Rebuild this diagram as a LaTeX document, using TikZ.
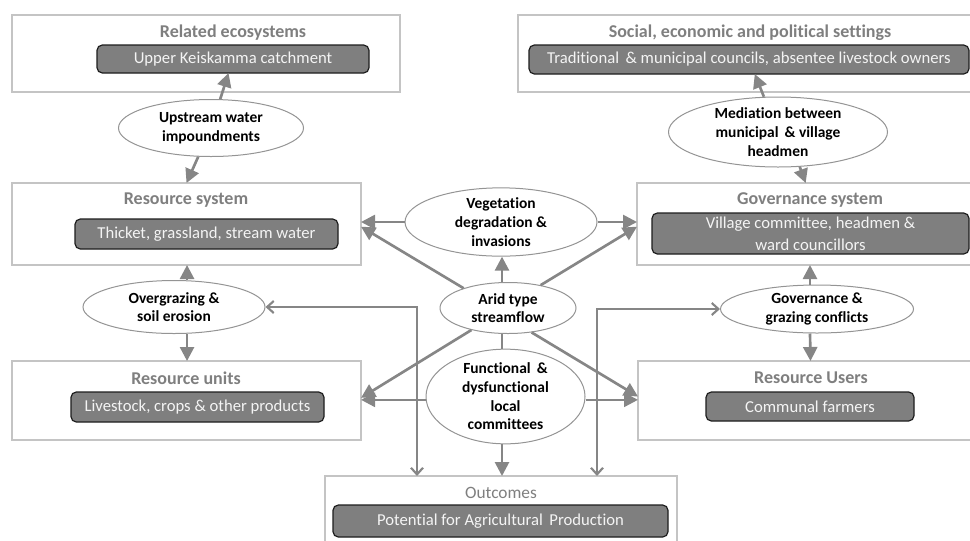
\documentclass[tikz,border=0pt]{standalone}
\usepackage{fontspec}
\setmainfont{Carlito}[Ligatures=NoCommon]
\usetikzlibrary{arrows.meta,shapes.geometric}
\definecolor{framegray}{HTML}{C4C4C4}
\definecolor{titlegray}{HTML}{7F7F7F}
\definecolor{darkfill}{HTML}{7F7F7F}
\definecolor{darkline}{HTML}{1E1E1E}
\definecolor{lightext}{HTML}{F4F4F4}
\definecolor{ovalline}{HTML}{949494}
\definecolor{linkgray}{HTML}{868686}
\begin{document}
\begin{tikzpicture}[x=0.75pt,y=-0.75pt,
  sized/.style 2 args={minimum width=#1*0.75pt, minimum height=#2*0.75pt},
  frame/.style={draw=framegray, line width=1.2pt, fill=white, inner sep=0pt, outer sep=0pt},
  title/.style={text=titlegray, font=\bfseries\fontsize{13.5}{16}\selectfont, inner sep=0pt},
  darkbox/.style={draw=darkline, line width=0.9pt, fill=darkfill, rounded corners=4pt,
    text=lightext, font=\fontsize{12.5}{16.5}\selectfont, align=center, inner sep=0pt, outer sep=0pt},
  oval/.style={ellipse, draw=ovalline, line width=0.75pt, fill=white, inner sep=0pt,
    align=center, font=\bfseries\fontsize{11.6}{14}\selectfont},
  link/.style={draw=linkgray, line width=2pt, -{Triangle[length=10.5pt,width=10.5pt]}},
  twoway/.style={draw=linkgray, line width=1.8pt,
    {Straight Barb[length=5pt,width=9pt,line width=1.6pt]}-{Straight Barb[length=5pt,width=9pt,line width=1.6pt]}},
  plain/.style={draw=linkgray, line width=2pt}]

\useasboundingbox (0,0) rectangle (970,540);
\clip (0,0) rectangle (970,540);

% outer frames
\node[frame, sized={388}{77}] (related) at (206,53.5) {};
\node[frame, sized={467}{77}] (social) at (751.5,53.5) {};
\node[frame, sized={349}{82}] (rsys) at (186.5,224) {};
\node[frame, sized={348}{82}] (govsys) at (811,224) {};
\node[frame, sized={349}{79}] (runits) at (186.5,400.5) {};
\node[frame, sized={347}{79}] (rusers) at (811.5,400.5) {};
\node[frame, sized={352}{79}] (outc) at (501,515.5) {};

% frame headings
\node[title] (relatedT) at (233,33) {Related ecosystems};
\node[title] (socialT) at (750,33) {Social, economic and political settings};
\node[title] (rsysT) at (186,200) {Resource system};
\node[title] (govsysT) at (810,200) {Governance system};
\node[title] (runitsT) at (186,378) {Resource units};
\node[title] (rusersT) at (811,378) {Resource Users};
\node[title, font=\fontsize{13}{15}\selectfont] (outcT) at (501,493) {Outcomes};

% filled content boxes
\node[darkbox, sized={272}{28}] (keis) at (233,59) {Upper Keiskamma catchment};
\node[darkbox, sized={440}{29}] (trad) at (749,59.5) {Traditional \,\& municipal councils, absentee livestock owners};
\node[darkbox, sized={263}{30}] (thicket) at (206.5,234) {Thicket, grassland, stream water};
\node[darkbox, sized={317}{41}] (village) at (810.5,233.5) {Village committee, headmen \&\\ward councillors};
\node[darkbox, sized={253}{30}] (livestock) at (197.5,407) {Livestock, crops \& other products};
\node[darkbox, sized={208}{29}] (farmers) at (810,406.5) {Communal farmers};
\node[darkbox, sized={335}{32}] (potential) at (500.5,521) {Potential for Agricultural \,Production};

% processes
\node[oval, sized={185}{57}] (upstream) at (211,128) {Upstream water\\impoundments};
\node[oval, sized={219}{70}] (mediation) at (778,132) {Mediation between\\municipal \,\& village\\headmen};
\node[oval, sized={192}{65}] (veg) at (501,222) {Vegetation\\degradation \&\\invasions};
\node[oval, sized={136}{51}] (arid) at (508,308) {Arid type\\streamflow};
\node[oval, sized={159}{87}] (func) at (505.5,396.5) {Functional \,\&\\dysfunctional\\local\\committees};
\node[oval, sized={182}{53}] (overg) at (174,307) {Overgrazing \&\\soil erosion};
\node[oval, sized={193}{48}] (gconf) at (817,309) {Governance \&\\grazing conflicts};

\coordinate (elbowL) at (417,307);
\coordinate (elbowR) at (597,309);

% connectors
\draw[link] (upstream) -- (keis);
\draw[link] (upstream.246) -- (rsys.north);
\draw[link] (mediation) -- (trad);
\draw[link] (mediation.-58) -- ([xshift=-4pt]govsys.north);

\draw[link] (veg.west) -- (veg.west -| rsys.east);
\draw[link] (veg.east) -- (veg.east -| govsys.west);

\draw[link] ([xshift=0.75pt]veg.south |- arid.north) -- ([xshift=0.75pt]veg.south);
\draw[link] (arid.156) -- ([yshift=-2pt]rsys.east);
\draw[link] (arid.35) -- ([yshift=-2pt]govsys.west);
\draw[link] (arid.211) -- ([yshift=2pt]runits.east);
\draw[link] (arid.-46) -- ([yshift=3pt]rusers.west);
\draw[plain] ([xshift=0.75pt]veg.south |- arid.south) -- ([xshift=0.75pt]veg.south |- func.north);

\draw[link] ([yshift=-2.5pt]func.west) -- ([yshift=-2.5pt]func.west -| runits.east);
\draw[link] ([yshift=-2.5pt]func.east) -- ([yshift=-2.5pt]func.east -| rusers.west);
\draw[link] ([xshift=0.75pt]veg.south |- func.south) -- ([xshift=0.75pt]veg.south |- outc.north);

\draw[link] ([xshift=0.4pt]rsys.south |- overg.north) -- ([xshift=0.4pt]rsys.south);
\draw[link] ([xshift=0.4pt]rsys.south |- overg.south) -- ([xshift=0.4pt]runits.north);
\draw[link] ([xshift=-0.75pt]govsys.south |- gconf.north) -- ([xshift=-0.75pt]govsys.south);
\draw[link] ([xshift=-0.75pt]govsys.south |- gconf.south) -- ([xshift=-0.75pt]rusers.north);

\draw[twoway] (overg.east) -- (elbowL) -- (elbowL |- outc.north);
\draw[twoway] (gconf.west) -- (elbowR) -- (elbowR |- outc.north);
\end{tikzpicture}
\end{document}
